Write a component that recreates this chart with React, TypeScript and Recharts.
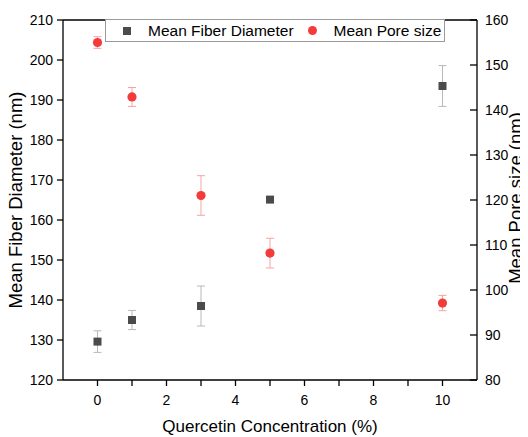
import {
  ComposedChart,
  Scatter,
  XAxis,
  YAxis,
  ErrorBar,
  Legend,
  Label,
  ReferenceLine,
} from "recharts";

const FONT = "'Liberation Sans', Arial, sans-serif";

const concentrations = [0, 1, 3, 5, 10];
const fiberDiameter = [129.6, 135.0, 138.5, 165.1, 193.5];
const fiberError = [2.7, 2.4, 5.0, 0.5, 5.1];
const poreSize = [155.0, 142.9, 121.0, 108.2, 97.1];
const poreError = [1.3, 2.1, 4.4, 3.3, 1.7];

const xTicks = [0, 1, 2, 3, 4, 5, 6, 7, 8, 9, 10];
const leftTicks = [120, 130, 140, 150, 160, 170, 180, 190, 200, 210];
const rightTicks = [80, 90, 100, 110, 120, 130, 140, 150, 160];

const fiberData = concentrations.map((c, i) => ({
  x: c,
  y: fiberDiameter[i],
  err: fiberError[i],
}));
const poreData = concentrations.map((c, i) => ({
  x: c,
  y: poreSize[i],
  err: poreError[i],
}));

const SQUARE = "#4b4b4b";
const RED = "#f43b3b";

const SquareShape = (props: any) => {
  const { cx, cy } = props;
  return <rect x={cx - 4} y={cy - 4} width={8} height={8} fill={SQUARE} />;
};

const DotShape = (props: any) => {
  const { cx, cy } = props;
  return <circle cx={cx} cy={cy} r={4.6} fill={RED} />;
};

// right axis: ticks point inward, labels stay outside
const RightTick = (props: any) => {
  const { x, y, payload } = props;
  return (
    <g>
      <line x1={x - 15} x2={x - 8} y1={y} y2={y} stroke="#000" strokeWidth={1.3} />
      <text x={x} y={y} dy={5} fontSize={14} fill="#000" fontFamily={FONT}>
        {payload.value}
      </text>
    </g>
  );
};

const LegendBox = (props: any) => {
  const items = props.payload || [];
  return (
    <div
      style={{
        width: 338,
        height: 21,
        border: "1px solid #9a9a9a",
        background: "#fff",
        display: "flex",
        alignItems: "center",
        fontFamily: FONT,
        fontSize: 15.5,
        lineHeight: "21px",
        color: "#000",
        whiteSpace: "nowrap",
      }}
    >
      {items.map((it: any, i: number) => (
        <div
          key={it.value}
          style={{
            display: "flex",
            alignItems: "center",
            flexShrink: 0,
            marginLeft: i === 0 ? 17 : 0,
          }}
        >
          <span
            style={{
              width: i === 0 ? 8 : 9,
              height: i === 0 ? 8 : 9,
              background: i === 0 ? SQUARE : RED,
              borderRadius: i === 0 ? 0 : "50%",
              marginRight: 17,
              flexShrink: 0,
            }}
          />
          <span style={{ marginRight: 14 }}>{it.value}</span>
        </div>
      ))}
    </div>
  );
};

export default function App() {
  return (
    <div style={{ marginLeft: -8, marginTop: -8, width: 528, height: 437 }}>
      <ComposedChart
        width={528}
        height={437}
        margin={{ top: 20, right: 0, bottom: 0, left: 0 }}
        style={{ fontFamily: FONT }}
      >
        <XAxis
          dataKey="x"
          type="number"
          domain={[-1, 11]}
          ticks={xTicks}
          interval={0}
          tickFormatter={(v: number) => (v % 2 === 0 ? String(v) : "")}
          height={57}
          tickSize={6}
          tickMargin={9}
          axisLine={{ stroke: "#000", strokeWidth: 1.3 }}
          tickLine={{ stroke: "#000", strokeWidth: 1.3 }}
          tick={{ fontSize: 14, fill: "#000" }}
        >
          <Label
            value="Quercetin Concentration (%)"
            position="center"
            dy={17}
            style={{ fontSize: 17, fill: "#000", fontFamily: FONT }}
          />
        </XAxis>
        <YAxis
          yAxisId="left"
          dataKey="y"
          type="number"
          domain={[120, 210]}
          ticks={leftTicks}
          interval={0}
          width={63}
          tickSize={6}
          tickMargin={4}
          axisLine={{ stroke: "#000", strokeWidth: 1.3 }}
          tickLine={{ stroke: "#000", strokeWidth: 1.3 }}
          tick={{ fontSize: 14, fill: "#000" }}
        >
          <Label
            value="Mean Fiber Diameter (nm)"
            angle={-90}
            position="center"
            dx={-16}
            style={{ fontSize: 18.5, fill: "#000", fontFamily: FONT, textAnchor: "middle" }}
          />
        </YAxis>
        <YAxis
          yAxisId="right"
          orientation="right"
          dataKey="y"
          type="number"
          domain={[80, 160]}
          ticks={rightTicks}
          interval={0}
          width={51}
          tickSize={0}
          tickMargin={8}
          axisLine={{ stroke: "#000", strokeWidth: 1.3 }}
          tickLine={false}
          tick={<RightTick />}
        >
          <Label
            value="Mean Pore size (nm)"
            angle={-90}
            position="center"
            dx={12.5}
            dy={-2}
            style={{ fontSize: 18.5, fill: "#000", fontFamily: FONT, textAnchor: "middle" }}
          />
        </YAxis>
        <ReferenceLine yAxisId="left" y={210} stroke="#000" strokeWidth={1.3} />
        <Legend
          content={<LegendBox />}
          layout="horizontal"
          verticalAlign="middle"
          align="center"
          width={340}
          wrapperStyle={{ left: 105, top: 19, width: 340 }}
        />
        <Scatter
          name="Mean Fiber Diameter"
          data={fiberData}
          yAxisId="left"
          fill={SQUARE}
          shape={<SquareShape />}
          isAnimationActive={false}
        >
          <ErrorBar dataKey="err" direction="y" width={4} stroke="#b8b8b8" strokeWidth={1} />
        </Scatter>
        <Scatter
          name="Mean Pore size"
          data={poreData}
          yAxisId="right"
          fill={RED}
          shape={<DotShape />}
          isAnimationActive={false}
        >
          <ErrorBar dataKey="err" direction="y" width={4} stroke="#f7a3a3" strokeWidth={1} />
        </Scatter>
      </ComposedChart>
    </div>
  );
}
